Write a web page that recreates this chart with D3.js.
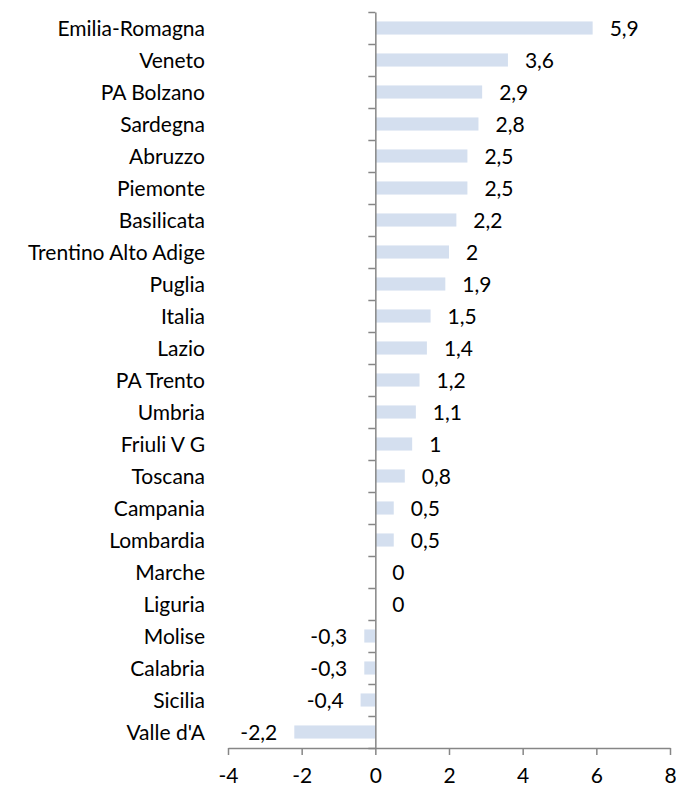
<!DOCTYPE html>
<html>
<head>
<meta charset="utf-8">
<script src="https://cdn.jsdelivr.net/npm/d3@7"></script>
<style>
  html, body { margin: 0; padding: 0; background: #fff; }
  svg { display: block; }
  text { font-family: Lato, "Open Sans", sans-serif; fill: #000; }
</style>
</head>
<body>
<svg id="chart" width="676" height="787"></svg>
<script>
// Regions, top to bottom
const regions = [
  "Emilia-Romagna", "Veneto", "PA Bolzano", "Sardegna", "Abruzzo", "Piemonte",
  "Basilicata", "Trentino Alto Adige", "Puglia", "Italia", "Lazio", "PA Trento",
  "Umbria", "Friuli V G ", "Toscana", "Campania", "Lombardia", "Marche",
  "Liguria", "Molise", "Calabria", "Sicilia", "Valle d'A"
];
const values = [
  5.9, 3.6, 2.9, 2.8, 2.5, 2.5,
  2.2, 2, 1.9, 1.5, 1.4, 1.2,
  1.1, 1, 0.8, 0.5, 0.5, 0,
  0, -0.3, -0.3, -0.4, -2.2
];
const xTicks = [-4, -2, 0, 2, 4, 6, 8];

const svg = d3.select("#chart");
const fontSize = 21;
const axisColor = "#868686";
const barColor = "#d4dfef";

const x = d3.scaleLinear().domain([-4, 8]).range([228, 670]);
const y = d3.scaleBand().domain(regions).range([12, 748])
  .paddingInner(0.59).paddingOuter(0.295);

const fmt = v => String(v).replace(".", ",");

// Bars
svg.append("g").selectAll("rect")
  .data(regions.map((r, i) => ({ r, v: values[i] })))
  .join("rect")
  .attr("x", d => Math.min(x(0), x(d.v)))
  .attr("width", d => Math.abs(x(d.v) - x(0)))
  .attr("y", d => y(d.r))
  .attr("height", y.bandwidth())
  .attr("fill", barColor);

// Value labels
svg.append("g").selectAll("text")
  .data(regions.map((r, i) => ({ r, v: values[i] })))
  .join("text")
  .attr("x", d => d.v < 0 ? x(d.v) - 17 : x(d.v) + 17)
  .attr("y", d => y(d.r) + y.bandwidth() / 2)
  .attr("dy", "0.36em")
  .attr("text-anchor", d => d.v < 0 ? "end" : "start")
  .style("font-size", fontSize + "px")
  .text(d => fmt(d.v));

// Vertical category axis at zero
const yAxis = svg.append("g")
  .attr("transform", `translate(${x(0)},0)`)
  .call(d3.axisLeft(d3.scaleLinear().domain([0, regions.length]).range([12, 748]))
    .tickValues(d3.range(regions.length + 1))
    .tickSize(7).tickSizeOuter(0).tickFormat(""));
yAxis.select(".domain").attr("stroke", axisColor).attr("stroke-width", 1.5);
yAxis.selectAll(".tick line").attr("stroke", axisColor).attr("stroke-width", 1.5);

// Category labels
svg.append("g").selectAll("text")
  .data(regions)
  .join("text")
  .attr("x", 205)
  .attr("y", d => y(d) + y.bandwidth() / 2)
  .attr("dy", "0.36em")
  .attr("text-anchor", "end")
  .style("font-size", fontSize + "px")
  .text(d => d);

// Horizontal value axis
const xAxis = svg.append("g")
  .attr("transform", "translate(0,748)")
  .call(d3.axisBottom(x).tickValues(xTicks).tickSize(7).tickSizeOuter(0)
    .tickFormat(d => String(d)));
xAxis.select(".domain").attr("stroke", axisColor).attr("stroke-width", 1.5);
xAxis.selectAll(".tick line").attr("stroke", axisColor).attr("stroke-width", 1.5);
xAxis.selectAll(".tick text")
  .attr("y", 35).attr("dy", 0)
  .style("font-size", fontSize + "px")
  .style("font-family", "Lato, 'Open Sans', sans-serif")
  .attr("fill", "#000");
</script>
</body>
</html>
